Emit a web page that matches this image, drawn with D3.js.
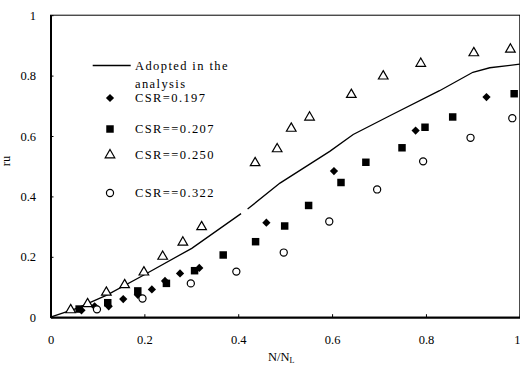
<!DOCTYPE html>
<html>
<head>
<meta charset="utf-8">
<script src="https://cdn.jsdelivr.net/npm/d3@7"></script>
<style>
  html, body { margin: 0; padding: 0; background: #fff; }
  svg text { font-family: "Liberation Serif", "DejaVu Serif", serif; fill: #000; }
</style>
</head>
<body>
<svg id="chart" width="520" height="365"></svg>
<script>
// N/NL vs ru
const csr197 = [[0.066,0.023],[0.094,0.036],[0.124,0.036],[0.155,0.060],[0.186,0.074],[0.216,0.092],
  [0.244,0.120],[0.276,0.145],[0.317,0.163],[0.460,0.313],[0.604,0.484],[0.778,0.618],[0.929,0.729]];
const csr207 = [[0.061,0.027],[0.122,0.048],[0.186,0.087],[0.247,0.112],[0.307,0.154],[0.368,0.206],
  [0.437,0.250],[0.499,0.302],[0.550,0.370],[0.619,0.446],[0.672,0.513],[0.749,0.561],[0.798,0.629],
  [0.857,0.663],[0.988,0.740]];
const csr250 = [[0.043,0.024],[0.079,0.044],[0.119,0.082],[0.158,0.107],[0.199,0.149],[0.239,0.201],
  [0.282,0.248],[0.322,0.299],[0.436,0.511],[0.483,0.557],[0.513,0.625],[0.552,0.662],[0.641,0.737],
  [0.709,0.798],[0.789,0.840],[0.902,0.875],[0.980,0.887]];
const csr322 = [[0.099,0.026],[0.196,0.062],[0.299,0.112],[0.396,0.151],[0.497,0.214],[0.594,0.317],
  [0.696,0.423],[0.794,0.516],[0.895,0.594],[0.984,0.659]];
// adopted curve (null = small break in the line)
const adopted = [[0,0],[0.056,0.029],[0.120,0.073],[0.198,0.139],[0.301,0.228],[0.406,0.343],null,
  [0.420,0.358],[0.489,0.444],[0.595,0.549],[0.645,0.605],[0.723,0.667],[0.829,0.750],[0.900,0.811],
  [0.936,0.826],[1.0,0.838]];
const xTicks = [0, 0.2, 0.4, 0.6, 0.8, 1];
const yTicks = [0, 0.2, 0.4, 0.6, 0.8, 1];
const legendLabels = ['CSR=0.197', 'CSR==0.207', 'CSR==0.250', 'CSR==0.322'];

const svg = d3.select('#chart');
const x = d3.scaleLinear().domain([0, 1]).range([50.5, 519.8]);
const y = d3.scaleLinear().domain([0, 1]).range([317.2, 15.2]);
const fs = '12.5px';

// frame
svg.append('rect')
  .attr('x', x(0)).attr('y', y(1))
  .attr('width', x(1) - x(0)).attr('height', y(0) - y(1))
  .attr('fill', 'none').attr('stroke', '#000').attr('stroke-width', 1);

const fmt = d => d === 0 || d === 1 ? String(d) : d3.format('.1f')(d);

const gx = svg.append('g').attr('transform', `translate(0,${y(0)})`)
  .call(d3.axisBottom(x).tickValues(xTicks).tickFormat(fmt).tickSizeInner(-3).tickSizeOuter(0).tickPadding(17.5));
const gy = svg.append('g').attr('transform', `translate(${x(0)},0)`)
  .call(d3.axisLeft(y).tickValues(yTicks).tickFormat(fmt).tickSizeInner(-3).tickSizeOuter(0).tickPadding(14.5));
[gx, gy].forEach(g => {
  g.select('.domain').attr('stroke-width', 2);
  g.selectAll('.tick line').attr('stroke-width', 1);
  g.selectAll('text').attr('font-size', fs).attr('font-family', null);
});
// last x label sits on the edge: keep it inside the window
gx.selectAll('.tick text').filter(d => d === 1).attr('text-anchor', 'end').attr('dx', 0.3);

// axis titles
const xt = svg.append('text').attr('x', 268).attr('y', 361).attr('font-size', fs);
xt.append('tspan').text('N/N');
xt.append('tspan').attr('font-size', '8px').attr('dy', 2).text('L');
svg.append('text').attr('transform', 'translate(10,161) rotate(-90)')
  .attr('text-anchor', 'middle').attr('font-size', fs).text('ru');

// adopted line
const line = d3.line().defined(d => d !== null).x(d => x(d[0])).y(d => y(d[1]));
svg.append('path').datum(adopted).attr('d', line)
  .attr('fill', 'none').attr('stroke', '#000').attr('stroke-width', 1.3);

// markers
const diamond = d3.symbol().type(d3.symbolSquare).size(34);
const square = d3.symbol().type(d3.symbolSquare).size(56);
const tri = d3.symbol().type(d3.symbolTriangle).size(40);
const circ = d3.symbol().type(d3.symbolCircle).size(40);

function plot(data, gen, open, rot) {
  svg.append('g').selectAll('path').data(data).join('path')
    .attr('d', gen)
    .attr('transform', d => `translate(${x(d[0])},${y(d[1])})` + (rot ? ' rotate(45)' : ''))
    .attr('fill', open ? '#fff' : '#000')
    .attr('stroke', '#000').attr('stroke-width', open ? 1.2 : 0);
}
plot(csr207, square, false, false);
plot(csr197, diamond, false, true);
plot(csr322, circ, true, false);
plot(csr250, tri, true, false);

// legend
const ls = 1.4;
const lg = svg.append('g');
lg.append('line').attr('x1', 92.7).attr('x2', 130.7).attr('y1', 65.5).attr('y2', 65.5)
  .attr('stroke', '#000').attr('stroke-width', 1.3);
lg.append('text').attr('x', 135).attr('y', 70).attr('font-size', fs).attr('letter-spacing', ls).text('Adopted in the');
lg.append('text').attr('x', 135).attr('y', 88).attr('font-size', fs).attr('letter-spacing', ls).text('analysis');
const rows = [
  { gen: diamond, open: false, rot: true, cy: 98 },
  { gen: square, open: false, rot: false, cy: 129 },
  { gen: tri, open: true, rot: false, cy: 155 },
  { gen: circ, open: true, rot: false, cy: 193 }
];
rows.forEach((r, i) => {
  lg.append('path').attr('d', r.gen)
    .attr('transform', `translate(110,${r.cy})` + (r.rot ? ' rotate(45)' : ''))
    .attr('fill', r.open ? '#fff' : '#000').attr('stroke', '#000').attr('stroke-width', r.open ? 1.2 : 0);
  lg.append('text').attr('x', 135).attr('y', r.cy + 4.3).attr('font-size', fs)
    .attr('letter-spacing', ls).text(legendLabels[i]);
});
</script>
</body>
</html>
